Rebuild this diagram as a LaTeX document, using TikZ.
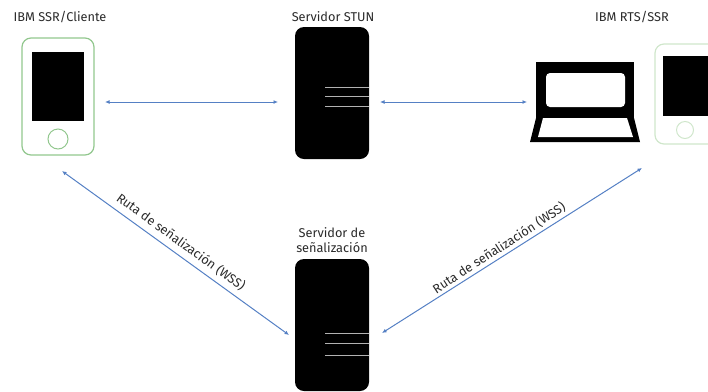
\documentclass[tikz,border=0pt]{standalone}
\usepackage{fontspec}
\setmainfont{Fira Sans}
\usetikzlibrary{arrows.meta}
\definecolor{linkblue}{HTML}{5580C4}
\definecolor{phonegreen}{HTML}{92C78E}
\definecolor{phonepale}{HTML}{CFE6CB}
\definecolor{labelgray}{HTML}{2A2A2A}

\begin{document}
\begin{tikzpicture}[x=1bp,y=-1bp]
      \tikzset{server/.style={inner sep=0pt,
          outer sep=0pt,
          minimum width=74bp,
          minimum height=132bp,
          fill=black,
          rounded corners=9bp},
        screen/.style={inner sep=0pt,
          outer sep=0pt,
          fill=black},
        phone/.style={inner sep=0pt,
          outer sep=0pt,
          draw=#1,
          line width=1.2bp,
          rounded corners=9bp},
        button/.style={circle,
          inner sep=0pt,
          outer sep=0pt,
          draw=#1,
          line width=1bp},
        title/.style={text=labelgray,
          inner sep=0pt,
          font=\fontsize{12.8}{15}\selectfont,
          align=center},
        link/.style={{Latex[length=4.5bp,width=4bp]}-{Latex[length=4.5bp,width=4bp]},
          draw=linkblue,
          line width=1bp},
        slot/.style={draw=white!70!black,
          line width=0.9bp}
      }
      \useasboundingbox (0,0) rectangle (708,391);

      % phone on the left
      \node [phone=phonegreen,minimum width=72bp,minimum height=117bp] (clientPhone) at (58,96.5) {};
      \node [screen,minimum width=52bp,minimum height=69bp] (clientScreen) at (58,86.5) {};
      \node [button=phonegreen,minimum size=20bp] (clientButton) at (58,139) {};

      % the two servers
      \node [server] (stun) at (332,93) {};
      \node [server] (signal) at (332,325) {};
      \coordinate (stunSlot) at (325,0);
      \draw [slot] (stunSlot |- 0,87) -- (stun.east |- 0,87);
      \draw [slot] (stunSlot |- 0,96) -- (stun.east |- 0,96);
      \draw [slot] (stunSlot |- 0,106) -- (stun.east |- 0,106);
      \draw [slot] (stunSlot |- 0,333) -- (signal.east |- 0,333);
      \draw [slot] (stunSlot |- 0,343) -- (signal.east |- 0,343);
      \draw [slot] (stunSlot |- 0,355) -- (signal.east |- 0,355);

      % laptop
      \node [screen,minimum width=98bp,minimum height=56bp] (lid) at (585,90) {};
      \node [fill=white,inner sep=0pt,rounded corners=4bp,minimum width=79bp,minimum height=34bp] (lidGlass) at (585.5,90) {};
      \fill (536,118) -- (530,142) -- (640,142) -- (634,118) -- cycle;
      \fill [white] (543,118) -- (538,137) -- (633,137) -- (627,118) -- cycle;

      % phone on the right, cut by the edge
      \node [phone=phonepale,minimum width=72bp,minimum height=100bp] (agentPhone) at (691,94) {};
      \node [screen,minimum width=50bp,minimum height=60bp] (agentScreen) at (688,86) {};
      \node [button=phonepale,minimum size=17bp] (agentButton) at (685,130) {};

      \node [title] (clientLabel) at (60,17) {IBM SSR/Cliente};
      \node [title] (stunLabel) at (333,17) {Servidor STUN};
      \node [title] (agentLabel) at (632,17) {IBM RTS/SSR};
      \node [title] (signalLabel) at (332,240) {Servidor de\\señalización};

      \coordinate (linkLevel) at (0,102);
      \draw [link,shorten <=11bp,shorten >=17bp] (clientPhone.east |- linkLevel) -- (stun.west |- linkLevel);
      \draw [link,shorten <=11bp,shorten >=9bp] (stun.east |- linkLevel) -- (lid.west |- linkLevel);
      \draw [link] ([shift={(4,16)}]clientPhone.south) -- ([shift={(-6,10)}]signal.west);
      \draw [link] ([shift={(-49,24)}]agentPhone.south) -- ([shift={(13,8)}]signal.east);

      \node [title,rotate=-36] (leftRoute) at (181,242) {Ruta de señalización (WSS)};
      \node [title,rotate=33] (rightRoute) at (499,248) {Ruta de señalización (WSS)};

    \end{tikzpicture}
\end{document}
